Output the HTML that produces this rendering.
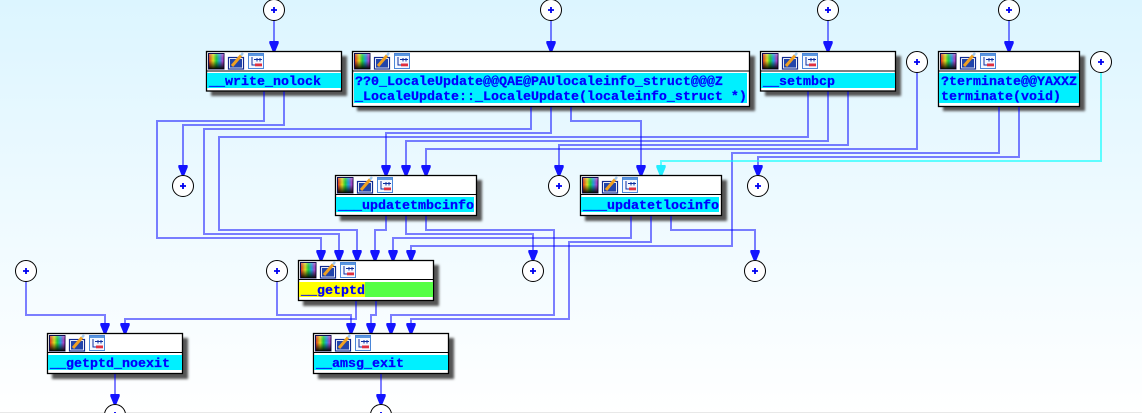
<!DOCTYPE html>
<html><head><meta charset="utf-8"><style>
html,body{margin:0;padding:0;width:1142px;height:413px;overflow:hidden;background:#fff}
svg{display:block}
text{font-family:"Liberation Mono",monospace;font-weight:bold;font-size:13.33px;fill:#0000ff;stroke:#0000ff;stroke-width:.25;white-space:pre}
.e{fill:none;stroke:#0000ff;stroke-opacity:.5;stroke-width:2}
.c{fill:none;stroke:#00ffff;stroke-opacity:.6;stroke-width:2}
.n{fill:#fff;stroke:#000;stroke-width:1.3}
.s{fill:#555;filter:url(#b)}
.o{fill:#fff;stroke:#000;stroke-width:1}
.sep{stroke:#000;stroke-width:1.1}
</style></head><body>
<svg width="1142" height="413" viewBox="0 0 1142 413" xmlns="http://www.w3.org/2000/svg">
<defs>
<linearGradient id="bg" x1="0" y1="0" x2="0" y2="1"><stop offset="0" stop-color="#dcf5ff"/><stop offset=".5" stop-color="#eefaff"/><stop offset="1" stop-color="#ffffff"/></linearGradient>
<linearGradient id="rb" x1="0" y1="0" x2="1" y2="0"><stop offset="0" stop-color="#e02020"/><stop offset=".3" stop-color="#e0e020"/><stop offset=".5" stop-color="#20d040"/><stop offset=".7" stop-color="#20a0e0"/><stop offset="1" stop-color="#e020c0"/></linearGradient>
<linearGradient id="dk" x1="0" y1="0" x2="0" y2="1"><stop offset="0" stop-color="#fff" stop-opacity=".25"/><stop offset=".45" stop-color="#000" stop-opacity="0"/><stop offset="1" stop-color="#000" stop-opacity=".95"/></linearGradient>
<filter id="b" x="-10%" y="-20%" width="120%" height="140%"><feGaussianBlur stdDeviation="1.2"/></filter>
<g id="ic">
<rect x="2.5" y="2.5" width="15.5" height="15.5" fill="url(#rb)" stroke="#101050" stroke-width="1"/>
<rect x="3" y="3" width="15" height="15" fill="url(#dk)"/>
<rect x="22.5" y="6.5" width="15" height="11.5" fill="#fff" stroke="#102a90" stroke-width="1.2"/>
<rect x="24" y="8" width="12" height="8.6" fill="#2244aa"/>
<path d="M26 15 L35 4.5" stroke="#f0a020" stroke-width="3"/>
<path d="M35 4.5 L37 2" stroke="#9fc8ee" stroke-width="2.4"/>
<rect x="42.5" y="2.5" width="15" height="15" fill="#f4f8ff" stroke="#4a86d8" stroke-width="1"/>
<rect x="43" y="3" width="14" height="2" fill="#5a96e0"/>
<path d="M46 6 V14 H49 M48 8.5 H56 M51 7 V10.5 M54 7 V10.5" stroke="#1030a0" stroke-width="1" fill="none"/>
<rect x="49" y="12.5" width="7" height="2.8" fill="#e03040"/>
</g>
<polygon id="a" points="-4.5,-10 4.5,-10 4.8,-8 1.5,0 -1.5,0 -4.8,-8" fill="#1414ff"/>
<polygon id="ac" points="-4.5,-10 4.5,-10 4.8,-8 1.5,0 -1.5,0 -4.8,-8" fill="#22eeff"/>
<g id="o"><circle r="10.5" class="o"/><path d="M-3 0H3M0 -3V3" stroke="#0000f0" stroke-width="1.8"/></g>
</defs>
<rect width="1142" height="413" fill="url(#bg)"/>
<rect y="412" width="1142" height="1" fill="#e8e8e8"/>

<!-- shadows -->
<rect class="s" x="211" y="56" width="136" height="40"/>
<rect class="s" x="357" y="56" width="398" height="55"/>
<rect class="s" x="765" y="56" width="136" height="40"/>
<rect class="s" x="943" y="56" width="142" height="55"/>
<rect class="s" x="340" y="180" width="142" height="41"/>
<rect class="s" x="585" y="180" width="142" height="41"/>
<rect class="s" x="303" y="265" width="136" height="41"/>
<rect class="s" x="52" y="338" width="136" height="41"/>
<rect class="s" x="318" y="338" width="136" height="41"/>

<!-- edges -->
<path class="e" d="M274 20V45"/>
<path class="e" d="M551 20V45"/>
<path class="e" d="M828 20V45"/>
<path class="e" d="M1009 20V45"/>
<path class="e" d="M264 91V121H157V238H321V254"/>
<path class="e" d="M284 91V125H183V169"/>
<path class="e" d="M531 106V129H204V234H339V254"/>
<path class="e" d="M551 106V133H386V169"/>
<path class="e" d="M571 106V121H641V169"/>
<path class="e" d="M808 91V137H219V230H357V254"/>
<path class="e" d="M828 91V141H406V169"/>
<path class="e" d="M848 91V145H559V169"/>
<path class="e" d="M917 72V149H426V169"/>
<path class="e" d="M999 106V153H732V246H411V254"/>
<path class="e" d="M1019 106V157H758V169"/>
<path class="c" d="M1101 72V161H661V169"/>
<path class="e" d="M386 216V230H375V254"/>
<path class="e" d="M406 216V234H533V254"/>
<path class="e" d="M426 216V230H554V315H391V327"/>
<path class="e" d="M631 216V238H393V254"/>
<path class="e" d="M651 216V242H569V319H411V327"/>
<path class="e" d="M671 216V230H755V254"/>
<path class="e" d="M356 300V319H125V327"/>
<path class="e" d="M376 300V315H371V327"/>
<path class="e" d="M277 281V315H351V327"/>
<path class="e" d="M26 281V315H105V327"/>
<path class="e" d="M115 373V398"/>
<path class="e" d="M381 373V398"/>

<!-- arrowheads -->
<use href="#a" x="274" y="51"/><use href="#a" x="551" y="51"/><use href="#a" x="828" y="51"/><use href="#a" x="1009" y="51"/>
<use href="#a" x="386" y="175"/><use href="#a" x="406" y="175"/><use href="#a" x="426" y="175"/><use href="#a" x="641" y="175"/><use href="#ac" x="661" y="175"/>
<use href="#a" x="183" y="175"/><use href="#a" x="559" y="175"/><use href="#a" x="758" y="175"/>
<use href="#a" x="321" y="260"/><use href="#a" x="339" y="260"/><use href="#a" x="357" y="260"/><use href="#a" x="375" y="260"/><use href="#a" x="393" y="260"/><use href="#a" x="411" y="260"/>
<use href="#a" x="533" y="260"/><use href="#a" x="755" y="260"/>
<use href="#a" x="105" y="333"/><use href="#a" x="125" y="333"/>
<use href="#a" x="351" y="333"/><use href="#a" x="371" y="333"/><use href="#a" x="391" y="333"/><use href="#a" x="411" y="333"/>
<use href="#a" x="115" y="404"/><use href="#a" x="381" y="404"/>

<!-- circles -->
<use href="#o" x="274" y="10"/><use href="#o" x="551" y="10"/><use href="#o" x="828" y="10"/><use href="#o" x="1009" y="10"/>
<use href="#o" x="917" y="62"/><use href="#o" x="1101" y="62"/>
<use href="#o" x="183" y="186"/><use href="#o" x="559" y="186"/><use href="#o" x="758" y="186"/>
<use href="#o" x="533" y="271"/><use href="#o" x="755" y="271"/><use href="#o" x="26" y="271"/><use href="#o" x="277" y="271"/>
<use href="#o" x="115" y="415"/><use href="#o" x="381" y="415"/>

<!-- write_nolock -->
<rect class="n" x="206.5" y="51.5" width="135" height="39.5"/><line class="sep" x1="206" x2="342" y1="71" y2="71"/>
<rect x="207" y="73" width="134" height="15" fill="#00f0ff"/><use href="#ic" x="206" y="51"/>
<text x="209" y="85">__write_nolock</text>

<!-- LocaleUpdate -->
<rect class="n" x="352.5" y="51.5" width="397" height="55"/><line class="sep" x1="352" x2="750" y1="71" y2="71"/>
<rect x="354" y="73" width="393" height="30" fill="#00f0ff"/><use href="#ic" x="352" y="51"/>
<text x="355" y="85">??0_LocaleUpdate@@QAE@PAUlocaleinfo_struct@@@Z</text>
<text x="355" y="100">_LocaleUpdate::_LocaleUpdate(localeinfo_struct *)</text>

<!-- setmbcp -->
<rect class="n" x="760.5" y="51.5" width="135" height="39.5"/><line class="sep" x1="760" x2="896" y1="71" y2="71"/>
<rect x="761" y="73" width="134" height="15" fill="#00f0ff"/><use href="#ic" x="760" y="51"/>
<text x="763" y="85">__setmbcp</text>

<!-- terminate -->
<rect class="n" x="938.5" y="51.5" width="141" height="55"/><line class="sep" x1="938" x2="1080" y1="71" y2="71"/>
<rect x="939" y="73" width="140" height="30" fill="#00f0ff"/><use href="#ic" x="938" y="51"/>
<text x="941" y="85">?terminate@@YAXXZ</text>
<text x="941" y="100">terminate(void)</text>

<!-- updatetmbcinfo -->
<rect class="n" x="335.5" y="175.5" width="141" height="40"/><line class="sep" x1="335" x2="477" y1="194.5" y2="194.5"/>
<rect x="336" y="197" width="138" height="15" fill="#00f0ff"/><use href="#ic" x="335" y="175"/>
<text x="338" y="209">___updatetmbcinfo</text>

<!-- updatetlocinfo -->
<rect class="n" x="580.5" y="175.5" width="141" height="40"/><line class="sep" x1="580" x2="722" y1="194.5" y2="194.5"/>
<rect x="581" y="197" width="138" height="15" fill="#00f0ff"/><use href="#ic" x="580" y="175"/>
<text x="583" y="209">___updatetlocinfo</text>

<!-- getptd -->
<rect class="n" x="298.5" y="260.5" width="135" height="40"/><line class="sep" x1="298" x2="434" y1="279.5" y2="279.5"/>
<rect x="299" y="282" width="134" height="15" fill="#55ff44"/><rect x="299" y="282" width="66" height="15" fill="#ffff00"/><use href="#ic" x="298" y="260"/>
<text x="301" y="294">__getptd</text>

<!-- getptd_noexit -->
<rect class="n" x="47.5" y="333.5" width="135" height="40"/><line class="sep" x1="47" x2="183" y1="352.5" y2="352.5"/>
<rect x="48" y="355" width="134" height="15" fill="#00f0ff"/><use href="#ic" x="47" y="333"/>
<text x="50" y="367">__getptd_noexit</text>

<!-- amsg_exit -->
<rect class="n" x="313.5" y="333.5" width="135" height="40"/><line class="sep" x1="313" x2="449" y1="352.5" y2="352.5"/>
<rect x="314" y="355" width="134" height="15" fill="#00f0ff"/><use href="#ic" x="313" y="333"/>
<text x="316" y="367">__amsg_exit</text>
</svg>
</body></html>
